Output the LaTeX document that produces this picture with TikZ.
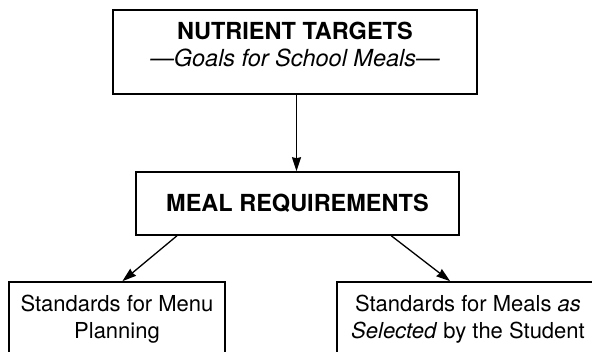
\documentclass[tikz,border=0pt]{standalone}
\usepackage{fontspec}
\setmainfont{TeX Gyre Heros}
\usetikzlibrary{arrows.meta}

\begin{document}
\begin{tikzpicture}[x=1pt,y=1pt]

	\tikzstyle box lines=[draw, line width=1.6pt, inner sep=0pt, align=center];
	\tikzstyle head font=[font=\fontsize{23.5}{27}\selectfont\bfseries];
	\tikzstyle body font=[font=\fontsize{22}{27}\selectfont];
	\tikzstyle flow lines=[line width=1.3pt, -{Stealth[length=14pt,width=9pt,inset=1pt]}];

	\useasboundingbox (0,0) rectangle (592,351);
	\clip (0,0) rectangle (592,351);

	\node[box lines, head font, minimum width=364, minimum height=84] (targets) at (295,299)
		{NUTRIENT TARGETS\\ {\mdseries\itshape ---Goals for School Meals---}\rule[-15pt]{0pt}{15pt}};

	\node[box lines, head font, minimum width=323, minimum height=63] (meals) at (297.5,147.5)
		{MEAL REQUIREMENTS};

	\node[box lines, body font, minimum width=216, minimum height=75] (menu) at (117,31.5)
		{Standards for Menu\\ Planning};
	\node[box lines, body font, minimum width=262, minimum height=75] (selected) at (468,31.5)
		{Standards for Meals \emph{as}\\ \emph{Selected} by the Student};

	\draw[flow lines] ([xshift=1.5pt]targets.south) -- ([xshift=1.5pt]targets.south |- meals.north);
	\draw[flow lines] (meals.195.3) -- (menu.82);
	\draw[flow lines] (meals.341.6) -- (selected.115.6);

\end{tikzpicture}
\end{document}
